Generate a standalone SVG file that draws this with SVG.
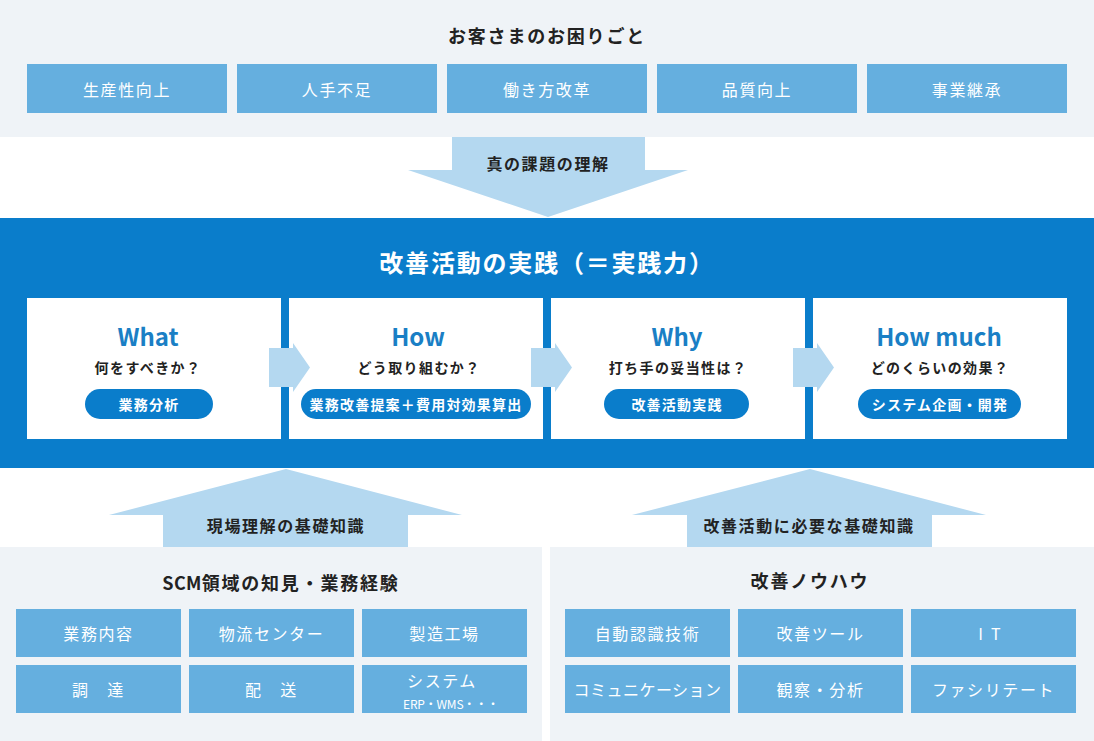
<svg xmlns="http://www.w3.org/2000/svg" width="1094" height="741" viewBox="0 0 1094 741">
<style>
text{font-family:"Noto Sans CJK JP","Noto Sans",sans-serif;text-anchor:middle}
.bg{fill:#eff3f7}
.cell{fill:#65afdf}
.cellt{fill:#fff;font-size:16px;letter-spacing:1.6px;dominant-baseline:central}
.arrow{fill:#b4d8f0}
.dark{fill:#222;font-weight:bold;letter-spacing:1.6px;dominant-baseline:central}
.step{fill:#fff}
.eng{fill:#1a7fc5;font-size:24px;font-weight:bold}
.q{fill:#222;font-size:14px;font-weight:bold;letter-spacing:1.4px;dominant-baseline:central}
.pill{fill:#0a7dcb}
.pillt{fill:#fff;font-size:14px;font-weight:bold;letter-spacing:1.2px;dominant-baseline:central}
</style>

<g id="problems">
<rect class="bg" x="0" y="0" width="1094" height="137"/>
<text class="dark" x="547" y="35" font-size="18" style="letter-spacing:1.8px">お客さまのお困りごと</text>
<g id="p1"><rect class="cell" x="27" y="64" width="200" height="49"/><text class="cellt" x="127" y="88.5">生産性向上</text></g>
<g id="p2"><rect class="cell" x="237" y="64" width="200" height="49"/><text class="cellt" x="337" y="88.5">人手不足</text></g>
<g id="p3"><rect class="cell" x="447" y="64" width="200" height="49"/><text class="cellt" x="547" y="88.5">働き方改革</text></g>
<g id="p4"><rect class="cell" x="657" y="64" width="200" height="49"/><text class="cellt" x="757" y="88.5">品質向上</text></g>
<g id="p5"><rect class="cell" x="867" y="64" width="200" height="49"/><text class="cellt" x="967" y="88.5">事業継承</text></g>
</g>

<g id="practice">
<rect x="0" y="218" width="1094" height="250" fill="#0a7dcb"/>
<text x="547" y="261" fill="#fff" font-size="24" font-weight="bold" style="letter-spacing:1.8px;dominant-baseline:central">改善活動の実践（＝実践力）</text>
<g id="what">
<rect class="step" x="27" y="298" width="254" height="141"/>
<text class="eng" x="148" y="346">What</text>
<text class="q" x="148" y="367">何をすべきか？</text>
<rect class="pill" x="85" y="389" width="128" height="30" rx="15"/>
<text class="pillt" x="149" y="404">業務分析</text>
</g>
<g id="how">
<rect class="step" x="289" y="298" width="254" height="141"/>
<text class="eng" x="418" y="346">How</text>
<text class="q" x="419" y="367">どう取り組むか？</text>
<rect class="pill" x="301" y="389" width="230" height="30" rx="15"/>
<text class="pillt" x="416" y="404">業務改善提案＋費用対効果算出</text>
</g>
<g id="why">
<rect class="step" x="551" y="298" width="254" height="141"/>
<text class="eng" x="677" y="346">Why</text>
<text class="q" x="678" y="367">打ち手の妥当性は？</text>
<rect class="pill" x="604" y="389" width="145" height="30" rx="15"/>
<text class="pillt" x="677" y="404">改善活動実践</text>
</g>
<g id="howmuch">
<rect class="step" x="813" y="298" width="254" height="141"/>
<text class="eng" x="939" y="346">How much</text>
<text class="q" x="940" y="367">どのくらいの効果？</text>
<rect class="pill" x="858" y="389" width="163" height="30" rx="15"/>
<text class="pillt" x="940" y="404">システム企画・開発</text>
</g>
</g>

<g id="scm">
<rect class="bg" x="0" y="547" width="542" height="194"/>
<text class="dark" x="281" y="582" font-size="18" style="letter-spacing:1.8px"><tspan style="letter-spacing:0.3px">SCM</tspan>領域の知見・業務経験</text>
<g id="s1"><rect class="cell" x="16" y="609" width="165" height="48"/><text class="cellt" x="98.5" y="633">業務内容</text></g>
<g id="s2"><rect class="cell" x="189" y="609" width="165" height="48"/><text class="cellt" x="271.5" y="633">物流センター</text></g>
<g id="s3"><rect class="cell" x="362" y="609" width="165" height="48"/><text class="cellt" x="444.5" y="633">製造工場</text></g>
<g id="s4"><rect class="cell" x="16" y="665" width="165" height="48"/><text class="cellt" x="98.5" y="689">調　達</text></g>
<g id="s5"><rect class="cell" x="189" y="665" width="165" height="48"/><text class="cellt" x="271.5" y="689">配　送</text></g>
<g id="s6"><rect class="cell" x="362" y="665" width="165" height="48"/><text class="cellt" x="442" y="680">システム</text><text x="451" y="703" fill="#fff" font-size="12" style="dominant-baseline:central" textLength="96">ERP・WMS・・・</text></g>
</g>

<g id="knowhow">
<rect class="bg" x="550" y="547" width="544" height="194"/>
<text class="dark" x="810" y="580" font-size="18" style="letter-spacing:1.8px">改善ノウハウ</text>
<g id="k1"><rect class="cell" x="565" y="609" width="165" height="48"/><text class="cellt" x="647.5" y="633">自動認識技術</text></g>
<g id="k2"><rect class="cell" x="738" y="609" width="165" height="48"/><text class="cellt" x="820.5" y="633">改善ツール</text></g>
<g id="k3"><rect class="cell" x="911" y="609" width="165" height="48"/><text class="cellt" x="993.5" y="633" style="letter-spacing:8px">IT</text></g>
<g id="k4"><rect class="cell" x="565" y="665" width="165" height="48"/><text class="cellt" x="647.5" y="689" style="letter-spacing:0.5px">コミュニケーション</text></g>
<g id="k5"><rect class="cell" x="738" y="665" width="165" height="48"/><text class="cellt" x="820.5" y="689">観察・分析</text></g>
<g id="k6"><rect class="cell" x="911" y="665" width="165" height="48"/><text class="cellt" x="993.5" y="689">ファシリテート</text></g>
</g>

<g id="connectors">
<path class="arrow" d="M452,137 H645 V170 H688 L548,217 L408,170 H452 Z"/>
<text class="dark" x="548" y="163" font-size="16">真の課題の理解</text>
<path class="arrow" d="M269,348 H293 V343 L310,367.5 L293,392 V387 H269 Z"/>
<path class="arrow" d="M531,348 H555 V343 L572,367.5 L555,392 V387 H531 Z"/>
<path class="arrow" d="M793,348 H817 V343 L834,367.5 L817,392 V387 H793 Z"/>
<path class="arrow" d="M163,547 V515 H109 L286,469 L462,515 H408 V547 Z"/>
<text class="dark" x="286" y="525" font-size="16">現場理解の基礎知識</text>
<path class="arrow" d="M687,547 V515 H632 L810,469 L986,515 H932 V547 Z"/>
<text class="dark" x="809" y="525" font-size="16">改善活動に必要な基礎知識</text>
</g>
</svg>
